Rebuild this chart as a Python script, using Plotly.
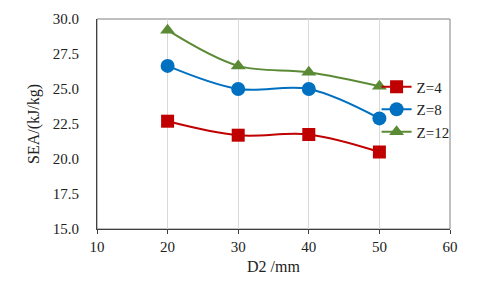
import plotly.graph_objects as go

d2 = [20, 30, 40, 50]
z4 = [22.7, 21.7, 21.75, 20.5]
z8 = [26.65, 25.0, 25.0, 22.9]
z12 = [29.2, 26.65, 26.2, 25.2]

x_ticks = [10, 20, 30, 40, 50, 60]
y_ticks = [15.0, 17.5, 20.0, 22.5, 25.0, 27.5, 30.0]

font = "Liberation Serif, Times New Roman, serif"
tfont = dict(family=font, size=15, color="#222")

fig = go.Figure()
series = [
    ("Z=4", z4, "#C00000", "square", 13),
    ("Z=8", z8, "#0070C0", "circle", 14),
    ("Z=12", z12, "#5B8A35", "triangle-up", 13),
]
for name, ys, col, sym, sz in series:
    fig.add_trace(go.Scatter(
        x=d2, y=ys, name=name, mode="lines+markers",
        line=dict(color=col, width=2, shape="spline", smoothing=1.0),
        marker=dict(symbol=sym, size=sz, color=col),
    ))

fig.update_layout(
    width=499, height=294,
    margin=dict(l=97, r=49, t=19, b=65, autoexpand=False),
    paper_bgcolor="white", plot_bgcolor="white",
    font=dict(family=font, size=15, color="#222"),
    showlegend=True,
    legend=dict(x=0.792, y=0.755, xanchor="left", yanchor="top",
                bgcolor="rgba(0,0,0,0)", font=dict(size=15, family=font, color="#222"),
                itemwidth=30, tracegroupgap=0),
    xaxis=dict(range=[10, 60], tickvals=x_ticks, ticktext=[str(v) for v in x_ticks],
               tickfont=tfont,
               showgrid=True, gridcolor="#D9D9D9", gridwidth=1,
               showline=True, linecolor="#404040", linewidth=1, mirror=False,
               ticks="outside", ticklen=4, tickcolor="#404040",
               zeroline=False, automargin=False,
               title=dict(text="D2 /mm", font=dict(size=16, family=font), standoff=6)),
    yaxis=dict(range=[15, 30], tickvals=y_ticks, ticktext=[f"{v:.1f}" for v in y_ticks],
               tickfont=tfont,
               showgrid=False, showline=True, linecolor="#404040", linewidth=1,
               ticks="", zeroline=False, automargin=False, ticklabelstandoff=14,
               title=dict(text="SEA/(kJ/kg)", font=dict(size=16, family=font), standoff=9)),
)
fig.add_shape(type="rect", xref="paper", yref="paper", x0=0, y0=0, x1=1, y1=1,
              line=dict(color="#808080", width=1), layer="below")

fig.write_html("out.html", config={"displayModeBar": False},
               post_script="document.body.style.margin='0';")
